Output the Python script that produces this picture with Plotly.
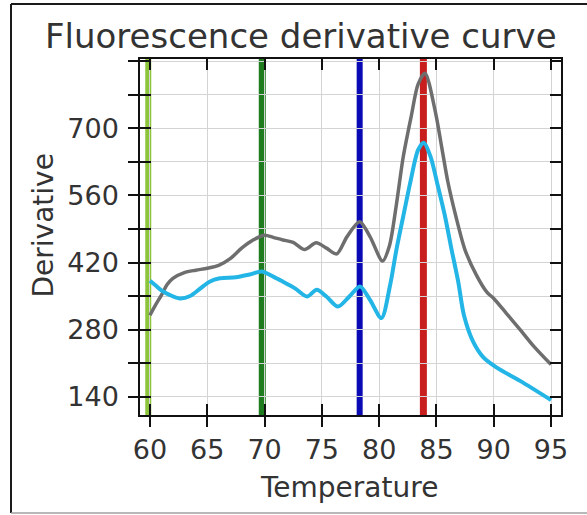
import plotly.graph_objects as go

# ---- data ----
gray_temp = [60.0, 60.5, 61.0, 61.5, 62.0, 63.0, 64.0, 65.0, 66.0, 67.0, 68.0, 69.0, 70.0,
             70.8, 71.6, 72.5, 73.5, 74.5, 75.4, 76.3, 77.2, 78.3, 79.2, 80.3, 80.9,
             81.5, 82.1, 82.8, 83.4, 84.0, 84.9, 85.5, 86.0, 86.7, 87.5, 88.5, 89.4,
             90.0, 91.1, 92.3, 93.5, 95.0]
gray_val = [310, 332, 352, 374, 387, 399, 404, 408, 414, 428, 450, 467, 477,
            472, 467, 462, 447, 461, 450, 438, 474, 505, 474, 423, 455,
            540, 640, 725, 792, 815, 735, 655, 588, 516, 446, 393, 358,
            345, 314, 280, 245, 207]

cyan_temp = [60.0, 60.5, 61.0, 61.75, 62.6, 63.5, 64.4, 65.2, 66.1, 67.5, 68.7, 69.75,
             70.8, 71.6, 72.66, 73.7, 74.55, 75.4, 76.4, 77.4, 78.33, 79.2, 80.2,
             80.95, 81.5, 82.1, 82.7, 83.4, 83.9, 84.5, 85.07, 85.75, 86.33, 86.9,
             87.4, 88.2, 89.1, 90.3, 92.3, 95.0]
cyan_val = [382, 372, 362, 352, 345, 350, 366, 380, 387, 389, 395, 401,
            390, 380, 366, 349, 363, 349, 328, 349, 370, 342, 304,
            372, 446, 516, 585, 655, 670, 640, 585, 516, 446, 380,
            310, 255, 222, 200, 173, 133]

marker_temps = [59.85, 69.8, 78.3, 83.86]
marker_colors = ["#8cc43c", "#1e7b1e", "#0a0ab4", "#c81e1e"]
marker_widths = [6, 7, 6, 7]

x_ticks = [60, 65, 70, 75, 80, 85, 90, 95]
y_ticks = [140, 210, 280, 350, 420, 490, 560, 630, 700, 770, 840]
y_ticktext = ["140", "", "280", "", "420", "", "560", "", "700", "", ""]

x_range = [59.13, 95.87]
y_range = [101.8, 844.6]

W, H = 587, 515
L, R, T, B = 140, 26, 59, 100
pw, ph = W - L - R, H - T - B


def px_to_paper(px, py):
    return (px - L) / pw, (H - B - py) / ph


fig = go.Figure()

fig.add_trace(go.Scatter(x=gray_temp, y=gray_val, mode="lines",
                         line=dict(color="#6e6e6e", width=3.5, shape="spline", smoothing=0.8),
                         showlegend=False, hoverinfo="skip"))
fig.add_trace(go.Scatter(x=cyan_temp, y=cyan_val, mode="lines",
                         line=dict(color="#22b5e6", width=4, shape="spline", smoothing=0.8),
                         showlegend=False, hoverinfo="skip"))
# dummy trace to create overlay axes (outside half of cross ticks)
fig.add_trace(go.Scatter(x=[], y=[], xaxis="x2", yaxis="y2", showlegend=False))

for t, c, w in zip(marker_temps, marker_colors, marker_widths):
    fig.add_shape(type="line", xref="x", yref="paper", x0=t, x1=t, y0=0, y1=1,
                  line=dict(color=c, width=w), layer="between")

font_fam = "DejaVu Sans"
txt_col = "#333333"

axis_common = dict(showline=True, linecolor="#111111", linewidth=1.5,
                   ticks="inside", ticklen=11, tickwidth=1.5, tickcolor="#111111",
                   mirror="ticks", gridcolor="#d4d4d4", gridwidth=1, zeroline=False,
                   tickfont=dict(family=font_fam, size=27, color=txt_col))

fig.update_layout(
    width=W, height=H,
    margin=dict(l=L, r=R, t=T, b=B),
    paper_bgcolor="white", plot_bgcolor="white",
    xaxis=dict(range=x_range, tickmode="array", tickvals=x_ticks,
               ticklabelstandoff=10, **axis_common),
    yaxis=dict(range=y_range, tickmode="array", tickvals=y_ticks, ticktext=y_ticktext,
               ticklabelstandoff=14, **axis_common),
    xaxis2=dict(range=x_range, overlaying="x", anchor="y2", side="bottom",
                tickmode="array", tickvals=x_ticks, ticks="outside", ticklen=11,
                tickwidth=1.5, tickcolor="#111111", showticklabels=False,
                showgrid=False, showline=False, zeroline=False),
    yaxis2=dict(range=y_range, overlaying="y", anchor="x2", side="left",
                tickmode="array", tickvals=y_ticks, ticks="outside", ticklen=11,
                tickwidth=1.5, tickcolor="#111111", showticklabels=False,
                showgrid=False, showline=False, zeroline=False),
)

# titles
tx, ty = px_to_paper(301, 36)
fig.add_annotation(text="Fluorescence derivative curve", xref="paper", yref="paper",
                   x=tx, y=ty, xanchor="center", yanchor="middle", showarrow=False,
                   font=dict(family=font_fam, size=34, color=txt_col))
ax_x, ax_y = px_to_paper(349, 487)
fig.add_annotation(text="Temperature", xref="paper", yref="paper",
                   x=ax_x, y=ax_y, xanchor="center", yanchor="middle", showarrow=False,
                   font=dict(family=font_fam, size=28, color=txt_col))
ay_x, ay_y = px_to_paper(43, 225.5)
fig.add_annotation(text="Derivative", xref="paper", yref="paper", textangle=-90,
                   x=ay_x, y=ay_y, xanchor="center", yanchor="middle", showarrow=False,
                   font=dict(family=font_fam, size=28, color=txt_col))

# outer frame of the picture
x0, y0 = px_to_paper(11, 4)
x1, y1 = px_to_paper(600, 513)
fig.add_shape(type="line", xref="paper", yref="paper", x0=x0, x1=x0, y0=y0, y1=y1,
              line=dict(color="#1a1a1a", width=2), layer="above")
fig.add_shape(type="line", xref="paper", yref="paper", x0=x0, x1=x1, y0=y0, y1=y0,
              line=dict(color="#1a1a1a", width=2), layer="above")
fig.add_shape(type="line", xref="paper", yref="paper", x0=x0, x1=x1, y0=y1, y1=y1,
              line=dict(color="#a0a0a0", width=1.5), layer="above")

fig.write_html("out.html", config={"displayModeBar": False},
               post_script="document.body.style.margin='0';")
